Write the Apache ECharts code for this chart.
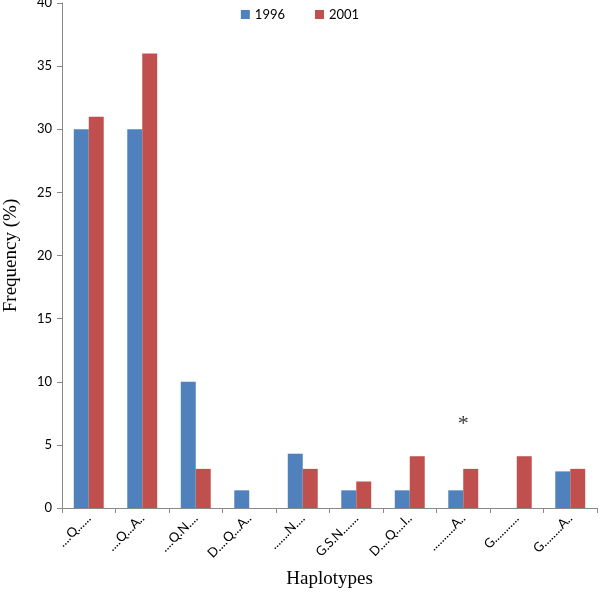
<!DOCTYPE html>
<html><head><meta charset="utf-8">
<script src="https://cdn.jsdelivr.net/npm/echarts@6/dist/echarts.min.js"></script>
<style>html,body{margin:0;padding:0;background:#fff}#c{width:600px;height:595px}</style>
</head><body><div id="c"></div>
<script>
const categories = ['....Q......', '....Q...A..', '....Q.N....', 'D....Q...A..', '.......N....', 'G.S.N.......', 'D....Q....I..', '..........A..', 'G...........', 'G........A..'];
const series1996 = [30, 30, 10, 1.4, 4.3, 1.4, 1.4, 1.4, 0, 2.9];
const series2001 = [31, 36, 3.1, 0, 3.1, 2.1, 4.1, 3.1, 4.1, 3.1];
const yTicks = [0, 5, 10, 15, 20, 25, 30, 35, 40];
const annotationCategory = '..........A..';
const annotationValue = 6.6;
const annotationText = '*';

const chart = echarts.init(document.getElementById('c'));
chart.setOption({
  animation: false,
  grid: {left: 62, right: 3, top: 3, bottom: 87, outerBoundsMode: 'none', containLabel: false},
  legend: {
    top: 3, left: 'center', itemWidth: 9, itemHeight: 9, itemGap: 30,
    icon: 'rect',
    textStyle: {fontFamily: 'Lato', fontSize: 13, color: '#000'},
    data: ['1996', '2001']
  },
  xAxis: {
    type: 'category', data: categories,
    name: 'Haplotypes', nameLocation: 'middle', nameGap: 62,
    nameTextStyle: {fontFamily: 'Liberation Serif', fontSize: 19, color: '#000'},
    axisLine: {lineStyle: {color: '#898989'}},
    axisTick: {show: true, alignWithLabel: false, length: 5, lineStyle: {color: '#898989'}},
    axisLabel: {rotate: 45, interval: 0, fontFamily: 'Lato', fontSize: 13, color: '#000', margin: 8}
  },
  yAxis: {
    type: 'value', min: yTicks[0], max: yTicks[yTicks.length - 1], interval: 5,
    name: 'Frequency (%)', nameLocation: 'middle', nameGap: 41, nameRotate: 90,
    nameTextStyle: {fontFamily: 'Liberation Serif', fontSize: 19, color: '#000'},
    axisLine: {show: true, lineStyle: {color: '#898989'}},
    axisTick: {show: true, length: 5, lineStyle: {color: '#898989'}},
    splitLine: {show: false},
    axisLabel: {fontFamily: 'Lato', fontSize: 13, color: '#000', margin: 10}
  },
  series: [
    {name: '1996', type: 'bar', data: series1996, barGap: '0%', barCategoryGap: '44%',
     itemStyle: {color: '#4F81BD'}},
    {name: '2001', type: 'bar', data: series2001, barGap: '0%', barCategoryGap: '44%',
     itemStyle: {color: '#C0504D'}},
    {name: 'note', type: 'scatter', symbolSize: 0, silent: true,
     data: [[annotationCategory, annotationValue]],
     label: {show: true, position: 'inside', formatter: annotationText, fontFamily: 'Liberation Serif', fontSize: 22, color: '#000'}}
  ]
});
</script></body></html>
